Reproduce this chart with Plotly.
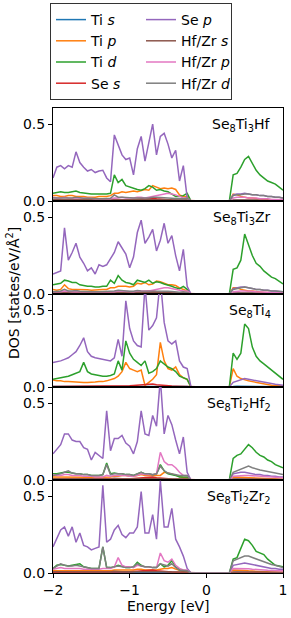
import plotly.graph_objects as go
from plotly.subplots import make_subplots

# ---------------- energy grid (eV) ----------------
energy_vb = [-2.00, -1.95, -1.90, -1.85, -1.80, -1.75, -1.70, -1.65, -1.60, -1.55,
             -1.50, -1.45, -1.40, -1.35, -1.30, -1.25, -1.20, -1.15, -1.10, -1.05,
             -1.00, -0.95, -0.90, -0.85, -0.80, -0.75, -0.70, -0.65, -0.60, -0.55,
             -0.50, -0.45, -0.40, -0.35, -0.30, -0.25]
energy_gap = [-0.20, -0.15, -0.10, -0.05, 0.00, 0.05, 0.10, 0.15, 0.20, 0.25, 0.30]
energy_cb = [0.35, 0.40, 0.45, 0.50, 0.55, 0.60, 0.65, 0.70, 0.75, 0.80, 0.85, 0.90, 0.95, 1.00]
dos_gap = [0, 0, 0, 0, 0, 0, 0, 0, 0, 0, 0]

panel_titles = ["Se<sub>8</sub>Ti<sub>3</sub>Hf", "Se<sub>8</sub>Ti<sub>3</sub>Zr", "Se<sub>8</sub>Ti<sub>4</sub>",
                "Se<sub>8</sub>Ti<sub>2</sub>Hf<sub>2</sub>", "Se<sub>8</sub>Ti<sub>2</sub>Zr<sub>2</sub>"]
series_names = ["Ti <i>s</i>", "Ti <i>p</i>", "Ti <i>d</i>", "Se <i>s</i>",
                "Se <i>p</i>", "Hf/Zr <i>s</i>", "Hf/Zr <i>p</i>", "Hf/Zr <i>d</i>"]
series_colors = ["#1f77b4", "#ff7f0e", "#2ca02c", "#d62728",
                 "#9467bd", "#8c564b", "#e377c2", "#7f7f7f"]
# legend is two columns filled column-wise -> row-wise rank
legend_rank = [1, 3, 5, 7, 2, 4, 6, 8]
y_ticks = [0.0, 0.5]
y_ticktext = ["0.0", "0.5"]
x_ticks = [-2, -1, 0, 1]
x_ticktext = ["\u22122", "\u22121", "0", "1"]

# ---------------- weak channels shared look ----------------
ti_s_vb = [0.003, 0.003, 0.003, 0.003, 0.003, 0.003, 0.004, 0.003, 0.003, 0.003, 0.002, 0.002,
           0.002, 0.002, 0.002, 0.003, 0.005, 0.004, 0.004, 0.004, 0.003, 0.003, 0.003, 0.004,
           0.004, 0.004, 0.005, 0.005, 0.004, 0.004, 0.004, 0.003, 0.003, 0.003, 0.003, 0.004]
ti_s_cb = [0.004, 0.005, 0.005, 0.005, 0.005, 0.004, 0.004, 0.004, 0.003, 0.003, 0.003, 0.003, 0.002, 0.002]
se_s_vb = [0.004, 0.004, 0.004, 0.004, 0.004, 0.004, 0.005, 0.004, 0.004, 0.004, 0.004, 0.004,
           0.004, 0.004, 0.004, 0.005, 0.008, 0.006, 0.006, 0.007, 0.008, 0.010, 0.012, 0.015,
           0.018, 0.020, 0.020, 0.015, 0.012, 0.010, 0.008, 0.006, 0.005, 0.004, 0.004, 0.004]
se_s_cb = [0.003, 0.003, 0.003, 0.003, 0.002, 0.002, 0.002, 0.002, 0.002, 0.002, 0.002, 0.001, 0.001, 0.001]
m_s_vb = [0.008, 0.008, 0.009, 0.008, 0.008, 0.008, 0.010, 0.008, 0.007, 0.007, 0.006, 0.006,
          0.006, 0.006, 0.006, 0.007, 0.012, 0.008, 0.008, 0.008, 0.007, 0.007, 0.007, 0.008,
          0.008, 0.008, 0.009, 0.009, 0.008, 0.008, 0.008, 0.007, 0.006, 0.006, 0.006, 0.007]
m_s_cb = [0.006, 0.007, 0.008, 0.008, 0.008, 0.007, 0.007, 0.006, 0.006, 0.006, 0.005, 0.005, 0.005, 0.004]

# ---------------- Se8Ti3Hf ----------------
hf1_ti_p_vb = [0.035, 0.035, 0.03, 0.03, 0.035, 0.035, 0.03, 0.03, 0.03, 0.025, 0.025, 0.025,
               0.03, 0.03, 0.03, 0.035, 0.05, 0.05, 0.06, 0.055, 0.06, 0.065, 0.06, 0.07,
               0.075, 0.07, 0.10, 0.09, 0.08, 0.085, 0.08, 0.085, 0.075, 0.04, 0.03, 0.03]
hf1_ti_p_cb = [0.045, 0.04, 0.03, 0.025, 0.02, 0.02, 0.015, 0.015, 0.01, 0.01, 0.01, 0.008, 0.006, 0.005]
hf1_ti_d_vb = [0.05, 0.055, 0.06, 0.055, 0.055, 0.06, 0.065, 0.055, 0.05, 0.05, 0.045, 0.045,
               0.045, 0.045, 0.045, 0.05, 0.17, 0.12, 0.14, 0.10, 0.09, 0.085, 0.075, 0.07,
               0.08, 0.10, 0.09, 0.07, 0.075, 0.065, 0.06, 0.045, 0.03, 0.03, 0.035, 0.05]
hf1_ti_d_cb = [0.17, 0.18, 0.22, 0.27, 0.29, 0.24, 0.20, 0.17, 0.15, 0.13, 0.12, 0.11, 0.09, 0.07]
hf1_se_p_vb = [0.15, 0.22, 0.23, 0.21, 0.23, 0.22, 0.32, 0.25, 0.22, 0.195, 0.205, 0.185,
               0.195, 0.20, 0.15, 0.125, 0.43, 0.36, 0.30, 0.27, 0.28, 0.17, 0.34, 0.42,
               0.26, 0.38, 0.50, 0.30, 0.42, 0.44, 0.37, 0.28, 0.33, 0.13, 0.23, 0.02]
hf1_se_p_cb = [0.04, 0.045, 0.045, 0.05, 0.045, 0.04, 0.04, 0.035, 0.035, 0.03, 0.03, 0.025, 0.025, 0.02]
hf1_m_p_vb = [0.025, 0.02, 0.02, 0.025, 0.02, 0.02, 0.02, 0.02, 0.02, 0.018, 0.018, 0.015,
              0.015, 0.015, 0.015, 0.015, 0.02, 0.02, 0.025, 0.02, 0.02, 0.02, 0.025, 0.025,
              0.02, 0.025, 0.03, 0.035, 0.04, 0.045, 0.05, 0.045, 0.04, 0.03, 0.02, 0.02]
hf1_m_p_cb = [0.02, 0.025, 0.025, 0.025, 0.02, 0.02, 0.02, 0.015, 0.015, 0.015, 0.01, 0.01, 0.01, 0.01]
hf1_m_d_vb = [0.02, 0.02, 0.022, 0.02, 0.02, 0.02, 0.025, 0.02, 0.018, 0.018, 0.016, 0.016,
              0.015, 0.015, 0.015, 0.018, 0.04, 0.025, 0.025, 0.022, 0.02, 0.02, 0.02, 0.022,
              0.02, 0.02, 0.025, 0.025, 0.022, 0.02, 0.02, 0.018, 0.015, 0.015, 0.015, 0.02]
hf1_m_d_cb = [0.035, 0.04, 0.04, 0.045, 0.045, 0.04, 0.04, 0.035, 0.035, 0.03, 0.03, 0.025, 0.025, 0.02]

# ---------------- Se8Ti3Zr ----------------
zr1_ti_p_vb = [0.03, 0.025, 0.03, 0.06, 0.035, 0.03, 0.03, 0.03, 0.028, 0.028, 0.025, 0.025,
               0.028, 0.03, 0.03, 0.04, 0.04, 0.05, 0.05, 0.05, 0.045, 0.05, 0.07, 0.065,
               0.075, 0.06, 0.065, 0.085, 0.08, 0.07, 0.06, 0.06, 0.055, 0.04, 0.03, 0.02]
zr1_ti_p_cb = [0.04, 0.04, 0.03, 0.025, 0.02, 0.02, 0.015, 0.015, 0.01, 0.01, 0.008, 0.006, 0.005, 0.004]
zr1_ti_d_vb = [0.06, 0.065, 0.07, 0.09, 0.085, 0.075, 0.075, 0.06, 0.055, 0.05, 0.05, 0.045,
               0.045, 0.05, 0.05, 0.09, 0.07, 0.12, 0.09, 0.075, 0.07, 0.06, 0.09, 0.08,
               0.075, 0.09, 0.07, 0.08, 0.075, 0.065, 0.06, 0.05, 0.04, 0.035, 0.05, 0.03]
zr1_ti_d_cb = [0.16, 0.17, 0.22, 0.39, 0.32, 0.25, 0.20, 0.18, 0.15, 0.13, 0.11, 0.10, 0.08, 0.065]
zr1_se_p_vb = [0.13, 0.14, 0.15, 0.43, 0.22, 0.27, 0.33, 0.24, 0.20, 0.15, 0.17, 0.13,
               0.19, 0.18, 0.19, 0.23, 0.27, 0.34, 0.30, 0.26, 0.17, 0.24, 0.40, 0.48,
               0.33, 0.37, 0.42, 0.28, 0.35, 0.46, 0.33, 0.38, 0.25, 0.15, 0.29, 0.05]
zr1_se_p_cb = [0.035, 0.04, 0.045, 0.045, 0.04, 0.035, 0.03, 0.03, 0.025, 0.025, 0.02, 0.02, 0.015, 0.015]
zr1_m_p_vb = [0.015, 0.015, 0.015, 0.02, 0.015, 0.015, 0.015, 0.015, 0.012, 0.012, 0.012, 0.012,
              0.012, 0.012, 0.012, 0.015, 0.015, 0.02, 0.018, 0.015, 0.015, 0.015, 0.02, 0.02,
              0.02, 0.02, 0.025, 0.03, 0.035, 0.04, 0.04, 0.035, 0.03, 0.025, 0.02, 0.02]
zr1_m_p_cb = [0.015, 0.02, 0.02, 0.02, 0.02, 0.018, 0.015, 0.015, 0.012, 0.012, 0.01, 0.01, 0.008, 0.008]
zr1_m_d_vb = [0.015, 0.018, 0.02, 0.03, 0.02, 0.02, 0.022, 0.018, 0.016, 0.015, 0.015, 0.014,
              0.014, 0.015, 0.015, 0.02, 0.02, 0.025, 0.022, 0.02, 0.018, 0.018, 0.022, 0.02,
              0.02, 0.02, 0.02, 0.022, 0.02, 0.018, 0.018, 0.016, 0.014, 0.012, 0.015, 0.01]
zr1_m_d_cb = [0.03, 0.035, 0.04, 0.045, 0.04, 0.035, 0.03, 0.03, 0.025, 0.025, 0.02, 0.02, 0.018, 0.015]

# ---------------- Se8Ti4 ----------------
ti4_ti_p_vb = [0.045, 0.04, 0.04, 0.035, 0.035, 0.033, 0.03, 0.03, 0.03, 0.03, 0.03, 0.032,
               0.035, 0.035, 0.04, 0.045, 0.055, 0.07, 0.10, 0.16, 0.12, 0.11, 0.10, 0.11,
               0.01, 0.03, 0.05, 0.08, 0.29, 0.17, 0.12, 0.11, 0.13, 0.08, 0.06, 0.05]
ti4_ti_p_cb = [0.12, 0.07, 0.055, 0.045, 0.04, 0.035, 0.03, 0.025, 0.02, 0.015, 0.012, 0.01, 0.008, 0.006]
ti4_ti_d_vb = [0.05, 0.055, 0.06, 0.065, 0.07, 0.08, 0.09, 0.10, 0.16, 0.10, 0.085, 0.08,
               0.075, 0.07, 0.07, 0.075, 0.085, 0.17, 0.11, 0.30, 0.22, 0.18, 0.16, 0.14,
               0.17, 0.09, 0.10, 0.12, 0.17, 0.15, 0.13, 0.12, 0.10, 0.07, 0.06, 0.05]
ti4_ti_d_cb = [0.22, 0.18, 0.22, 0.41, 0.38, 0.26, 0.20, 0.17, 0.15, 0.13, 0.11, 0.09, 0.07, 0.05]
ti4_se_p_vb = [0.16, 0.165, 0.17, 0.18, 0.19, 0.21, 0.23, 0.27, 0.32, 0.23, 0.20, 0.19,
               0.185, 0.18, 0.175, 0.17, 0.19, 0.31, 0.20, 0.56, 0.38, 0.30, 0.27, 0.26,
               0.66, 0.37, 0.40, 0.45, 0.70, 0.42, 0.30, 0.28, 0.30, 0.17, 0.13, 0.12]
ti4_se_p_cb = [0.03, 0.04, 0.05, 0.055, 0.05, 0.045, 0.04, 0.035, 0.03, 0.025, 0.02, 0.018, 0.015, 0.012]

# ---------------- Se8Ti2Hf2 ----------------
hf2_ti_p_vb = [0.02, 0.02, 0.02, 0.022, 0.022, 0.02, 0.02, 0.02, 0.018, 0.018, 0.016, 0.016,
               0.016, 0.018, 0.02, 0.02, 0.025, 0.025, 0.03, 0.03, 0.025, 0.025, 0.03, 0.035,
               0.03, 0.03, 0.03, 0.03, 0.03, 0.05, 0.045, 0.04, 0.03, 0.02, 0.015, 0.015]
hf2_ti_p_cb = [0.02, 0.02, 0.018, 0.016, 0.015, 0.014, 0.012, 0.01, 0.01, 0.008, 0.008, 0.006, 0.005, 0.005]
hf2_ti_d_vb = [0.04, 0.04, 0.045, 0.05, 0.05, 0.045, 0.04, 0.04, 0.035, 0.035, 0.03, 0.03,
               0.03, 0.035, 0.11, 0.04, 0.045, 0.04, 0.04, 0.035, 0.035, 0.03, 0.04, 0.05,
               0.04, 0.04, 0.035, 0.04, 0.10, 0.06, 0.04, 0.035, 0.03, 0.02, 0.02, 0.02]
hf2_ti_d_cb = [0.14, 0.16, 0.17, 0.20, 0.23, 0.21, 0.18, 0.16, 0.15, 0.13, 0.12, 0.10, 0.09, 0.08]
hf2_se_p_vb = [0.17, 0.20, 0.23, 0.30, 0.30, 0.26, 0.25, 0.25, 0.21, 0.20, 0.13, 0.18,
               0.16, 0.14, 0.45, 0.19, 0.27, 0.27, 0.29, 0.24, 0.22, 0.17, 0.25, 0.45,
               0.30, 0.29, 0.42, 0.35, 0.66, 0.30, 0.42, 0.36, 0.26, 0.17, 0.28, 0.05]
hf2_se_p_cb = [0.04, 0.045, 0.05, 0.05, 0.045, 0.04, 0.035, 0.035, 0.03, 0.03, 0.025, 0.025, 0.02, 0.02]
hf2_m_p_vb = [0.035, 0.03, 0.03, 0.035, 0.035, 0.03, 0.03, 0.03, 0.025, 0.025, 0.025, 0.02,
              0.02, 0.02, 0.03, 0.025, 0.03, 0.03, 0.03, 0.03, 0.025, 0.025, 0.03, 0.04,
              0.035, 0.035, 0.035, 0.04, 0.18, 0.12, 0.10, 0.10, 0.08, 0.05, 0.03, 0.03]
hf2_m_p_cb = [0.025, 0.028, 0.03, 0.03, 0.03, 0.028, 0.025, 0.025, 0.022, 0.02, 0.02, 0.018, 0.015, 0.015]
hf2_m_d_vb = [0.03, 0.035, 0.04, 0.05, 0.06, 0.045, 0.04, 0.04, 0.035, 0.035, 0.03, 0.03,
              0.03, 0.035, 0.10, 0.035, 0.04, 0.04, 0.04, 0.035, 0.035, 0.03, 0.04, 0.05,
              0.04, 0.04, 0.035, 0.04, 0.09, 0.06, 0.045, 0.04, 0.035, 0.03, 0.03, 0.03]
hf2_m_d_cb = [0.05, 0.06, 0.07, 0.08, 0.09, 0.08, 0.07, 0.065, 0.06, 0.055, 0.05, 0.045, 0.04, 0.035]

# ---------------- Se8Ti2Zr2 ----------------
zr2_ti_p_vb = [0.015, 0.015, 0.015, 0.015, 0.015, 0.015, 0.015, 0.015, 0.015, 0.015, 0.012, 0.012,
               0.012, 0.015, 0.015, 0.015, 0.02, 0.02, 0.02, 0.02, 0.02, 0.02, 0.025, 0.025,
               0.02, 0.02, 0.02, 0.02, 0.025, 0.03, 0.03, 0.035, 0.025, 0.015, 0.01, 0.01]
zr2_ti_p_cb = [0.02, 0.02, 0.018, 0.016, 0.014, 0.012, 0.01, 0.01, 0.008, 0.008, 0.006, 0.006, 0.005, 0.005]
zr2_ti_d_vb = [0.03, 0.05, 0.055, 0.05, 0.045, 0.05, 0.055, 0.06, 0.04, 0.035, 0.03, 0.03,
               0.03, 0.17, 0.035, 0.035, 0.04, 0.05, 0.04, 0.035, 0.035, 0.04, 0.07, 0.05,
               0.04, 0.04, 0.035, 0.035, 0.06, 0.04, 0.05, 0.08, 0.04, 0.02, 0.015, 0.015]
zr2_ti_d_cb = [0.09, 0.10, 0.16, 0.22, 0.21, 0.18, 0.14, 0.13, 0.12, 0.09, 0.07, 0.05, 0.045, 0.04]
zr2_se_p_vb = [0.17, 0.23, 0.28, 0.30, 0.24, 0.30, 0.20, 0.26, 0.18, 0.17, 0.15, 0.16,
               0.17, 0.57, 0.20, 0.22, 0.28, 0.31, 0.25, 0.23, 0.26, 0.26, 0.30, 0.53,
               0.26, 0.26, 0.38, 0.22, 0.60, 0.30, 0.30, 0.42, 0.22, 0.17, 0.11, 0.03]
zr2_se_p_cb = [0.05, 0.055, 0.06, 0.065, 0.06, 0.055, 0.05, 0.045, 0.04, 0.035, 0.03, 0.03, 0.025, 0.025]
zr2_m_p_vb = [0.025, 0.03, 0.035, 0.03, 0.03, 0.03, 0.03, 0.03, 0.025, 0.025, 0.025, 0.025,
              0.025, 0.03, 0.03, 0.03, 0.04, 0.10, 0.05, 0.04, 0.04, 0.035, 0.05, 0.045,
              0.04, 0.04, 0.035, 0.035, 0.13, 0.08, 0.07, 0.09, 0.05, 0.03, 0.02, 0.02]
zr2_m_p_cb = [0.03, 0.03, 0.03, 0.03, 0.028, 0.025, 0.022, 0.02, 0.02, 0.018, 0.016, 0.015, 0.015, 0.015]
zr2_m_d_vb = [0.03, 0.045, 0.06, 0.05, 0.045, 0.045, 0.05, 0.045, 0.04, 0.035, 0.03, 0.03,
              0.03, 0.17, 0.035, 0.035, 0.04, 0.045, 0.04, 0.035, 0.035, 0.04, 0.06, 0.045,
              0.04, 0.04, 0.035, 0.035, 0.06, 0.05, 0.045, 0.06, 0.035, 0.02, 0.015, 0.015]
zr2_m_d_cb = [0.08, 0.09, 0.10, 0.11, 0.11, 0.10, 0.09, 0.08, 0.07, 0.06, 0.055, 0.05, 0.04, 0.035]

# ---------------- assemble ----------------
energy = energy_vb + energy_gap + energy_cb


def full(vb, cb):
    return vb + dos_gap + cb


panels = [
    [full(ti_s_vb, ti_s_cb), full(hf1_ti_p_vb, hf1_ti_p_cb), full(hf1_ti_d_vb, hf1_ti_d_cb),
     full(se_s_vb, se_s_cb), full(hf1_se_p_vb, hf1_se_p_cb), full(m_s_vb, m_s_cb),
     full(hf1_m_p_vb, hf1_m_p_cb), full(hf1_m_d_vb, hf1_m_d_cb)],
    [full(ti_s_vb, ti_s_cb), full(zr1_ti_p_vb, zr1_ti_p_cb), full(zr1_ti_d_vb, zr1_ti_d_cb),
     full(se_s_vb, se_s_cb), full(zr1_se_p_vb, zr1_se_p_cb), full(m_s_vb, m_s_cb),
     full(zr1_m_p_vb, zr1_m_p_cb), full(zr1_m_d_vb, zr1_m_d_cb)],
    [full(ti_s_vb, ti_s_cb), full(ti4_ti_p_vb, ti4_ti_p_cb), full(ti4_ti_d_vb, ti4_ti_d_cb),
     full(se_s_vb, se_s_cb), full(ti4_se_p_vb, ti4_se_p_cb), None, None, None],
    [full(ti_s_vb, ti_s_cb), full(hf2_ti_p_vb, hf2_ti_p_cb), full(hf2_ti_d_vb, hf2_ti_d_cb),
     full(se_s_vb, se_s_cb), full(hf2_se_p_vb, hf2_se_p_cb), full(m_s_vb, m_s_cb),
     full(hf2_m_p_vb, hf2_m_p_cb), full(hf2_m_d_vb, hf2_m_d_cb)],
    [full(ti_s_vb, ti_s_cb), full(zr2_ti_p_vb, zr2_ti_p_cb), full(zr2_ti_d_vb, zr2_ti_d_cb),
     full(se_s_vb, se_s_cb), full(zr2_se_p_vb, zr2_se_p_cb), full(m_s_vb, m_s_cb),
     full(zr2_m_p_vb, zr2_m_p_cb), full(zr2_m_d_vb, zr2_m_d_cb)],
]

FONT = "DejaVu Sans"
W, H = 291, 618
L, R, T, B = 53, 8, 108, 45
PH = H - T - B  # plot height in px

fig = make_subplots(rows=5, cols=1, shared_xaxes=True, vertical_spacing=0)

for r, series in enumerate(panels, start=1):
    for i, ys in enumerate(series):
        if ys is None:
            continue
        fig.add_trace(go.Scatter(
            x=energy, y=ys, mode="lines", name=series_names[i],
            line=dict(color=series_colors[i], width=1.5),
            showlegend=(r == 1), legendrank=legend_rank[i],
        ), row=r, col=1)
    fig.add_annotation(text=panel_titles[r - 1], xref="x domain", yref="y domain",
                       x=0.957, y=0.94, xanchor="right", yanchor="top", showarrow=False,
                       font=dict(family=FONT, size=14, color="black"), row=r, col=1)

for r in range(1, 6):
    fig.update_yaxes(range=[0, 0.605], tickvals=y_ticks, ticktext=y_ticktext, ticks="outside",
                     ticklen=4, tickwidth=1, tickcolor="black", showline=True, mirror=True,
                     linecolor="black", linewidth=1, showgrid=False, zeroline=False,
                     automargin=False,
                     tickfont=dict(family=FONT, size=14, color="black"), row=r, col=1)
    fig.update_xaxes(range=[-2, 1], tickvals=x_ticks, ticktext=x_ticktext,
                     ticks="outside" if r == 5 else "", ticklen=4, tickwidth=1, tickcolor="black",
                     showticklabels=(r == 5), showline=True, mirror=True, linecolor="black",
                     linewidth=1, showgrid=False, zeroline=False, automargin=False,
                     tickfont=dict(family=FONT, size=14, color="black"), row=r, col=1)

# x-axis title
fig.add_annotation(text="Energy [eV]", xref="paper", yref="paper",
                   x=0.5, y=-(606 - (H - B)) / PH, xanchor="center", yanchor="middle",
                   showarrow=False, font=dict(family=FONT, size=14, color="black"))

# y-axis title
fig.add_annotation(text="DOS [states/eV/Å<sup>2</sup>]", xref="paper", yref="paper",
                   x=-(L - 13) / (W - L - R), y=((H - B) - 293) / PH, xanchor="center",
                   yanchor="middle", textangle=-90, showarrow=False,
                   font=dict(family=FONT, size=14, color="black"))

fig.update_layout(
    width=W, height=H,
    margin=dict(l=L, r=R, t=T, b=B, autoexpand=False),
    paper_bgcolor="white", plot_bgcolor="white",
    font=dict(family=FONT, size=14, color="black"),
    legend=dict(orientation="h", entrywidth=45, entrywidthmode="pixels",
                x=50 / W, y=1 - 3 / H, xref="container", yref="container",
                xanchor="left", yanchor="top",
                font=dict(family=FONT, size=14, color="black"),
                bgcolor="white", bordercolor="#333333", borderwidth=1,
                itemwidth=30, traceorder="normal"),
)

fig.write_html("out.html", config={"displayModeBar": False},
               post_script="document.body.style.margin='0';document.body.style.padding='0';")
